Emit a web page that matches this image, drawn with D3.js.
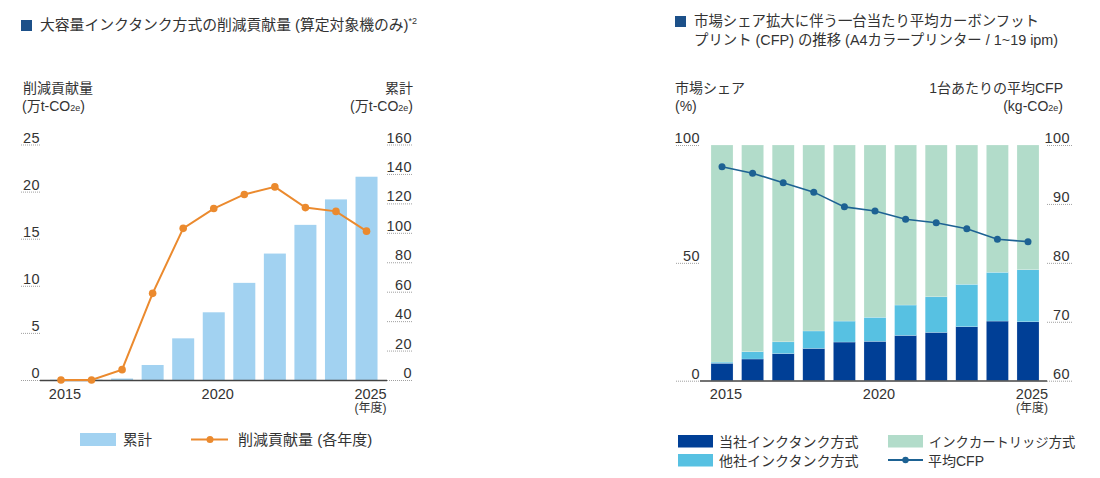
<!DOCTYPE html>
<html><head><meta charset="utf-8">
<script src="https://cdn.jsdelivr.net/npm/d3@7"></script>
<style>
html,body{margin:0;padding:0;background:#fff;}
svg text{font-family:"Liberation Sans","Noto Sans CJK JP",sans-serif;fill:#333;}
</style></head>
<body>
<svg id="c" width="1100" height="478"></svg>
<script>
// ---- data ----
const years = [2015,2016,2017,2018,2019,2020,2021,2022,2023,2024,2025];
const yearLabels = ["2015","2020","2025"];
// left chart
const cumulative = [0.2,0.3,1.0,10.2,28.3,46.0,66.0,85.9,105.4,122.7,138.1];
const annual = [0,0,1.1,9.2,16.1,18.2,19.7,20.5,18.3,17.9,15.8];
const leftTicksL = [0,5,10,15,20,25];
const leftTicksR = [0,20,40,60,80,100,120,140,160];
// right chart
const ownTank = [7.4,9.2,11.5,13.7,16.4,16.7,19.2,20.5,22.9,25.3,25.0];
const otherTank = [0.5,3.1,5.0,7.4,8.9,10.2,12.9,15.1,18.0,20.7,22.1];
const cartridge = ownTank.map((d,i)=>+(100-d-otherTank[i]).toFixed(1));
const avgCFP = [96.3,95.2,93.6,92.0,89.5,88.8,87.4,86.8,85.8,84.0,83.6];
const rightTicksL = [0,50,100];
const rightTicksR = [60,70,80,90,100];

const svg = d3.select("#c");
const C = {navy:"#003f96", sky:"#57c1e2", mint:"#b2dcca", bar:"#a2d2f1", orange:"#eb8a2e", cfp:"#1d6293", sq:"#1c5089", text:"#333"};

function title(x,y,lines,sup,fs){
  svg.append("rect").attr("x",x).attr("y",y-10).attr("width",11).attr("height",11).attr("fill",C.sq);
  lines.forEach((l,i)=>{
    const t = svg.append("text").attr("x",x+19).attr("y",y+i*19).attr("font-size",fs).text(l);
    if(sup && i===lines.length-1) t.append("tspan").attr("font-size",9).attr("dy",-6).text(sup);
  });
}
function unitText(x,y,anchor,main,sub){
  const t = svg.append("text").attr("x",x).attr("y",y).attr("font-size",14).attr("text-anchor",anchor);
  t.append("tspan").text(main);
  if(sub){t.append("tspan").attr("font-size",9).text(sub); t.append("tspan").text(")");}
}
function ticks(scale, vals, x1, x2, anchorX){
  const g = svg.append("g");
  vals.forEach(v=>{
    const y = scale(v);
    g.append("line").attr("x1",x1).attr("x2",x2).attr("y1",y+0.5).attr("y2",y+0.5)
      .attr("stroke","#888").attr("stroke-width",0.8).attr("stroke-dasharray","1,1");
    g.append("text").attr("x",anchorX).attr("y",y-2).attr("font-size",14.5).attr("letter-spacing",0.4)
      .attr("text-anchor","end").text(v);
  });
}

// ================= LEFT CHART =================
title(21,30,["大容量インクタンク方式の削減貢献量 (算定対象機のみ)"],"*2",14.8);
unitText(23,93,"start","削減貢献量");
unitText(22,111,"start","(万t-CO","2e");
unitText(413,93,"end","累計");
unitText(413,111,"end","(万t-CO","2e");

const xL = d3.scaleBand().domain(years).range([45.7,381.8]).paddingInner(0.28).paddingOuter(0.14);
const yL = d3.scaleLinear().domain([0,25]).range([380,144.5]);
const yR = d3.scaleLinear().domain([0,160]).range([380,144.5]);

ticks(yL,leftTicksL,21,40,40);
ticks(yR,leftTicksR,387,413,412);

svg.append("g").selectAll("rect").data(cumulative).join("rect")
  .attr("x",(d,i)=>xL(years[i])).attr("width",xL.bandwidth())
  .attr("y",d=>yR(d)).attr("height",d=>yR(0)-yR(d)).attr("fill",C.bar);

svg.append("line").attr("x1",40).attr("x2",387).attr("y1",380.5).attr("y2",380.5).attr("stroke","#444").attr("stroke-width",1.3);

const cxL = i=>xL(years[i])+xL.bandwidth()/2;
svg.append("path").datum(annual)
  .attr("d",d3.line().x((d,i)=>cxL(i)).y(d=>yL(d)))
  .attr("fill","none").attr("stroke",C.orange).attr("stroke-width",2);
svg.append("g").selectAll("circle").data(annual).join("circle")
  .attr("cx",(d,i)=>cxL(i)).attr("cy",d=>yL(d)).attr("r",3.8).attr("fill",C.orange);

yearLabels.forEach(l=>{
  svg.append("text").attr("x",cxL(years.indexOf(+l))+4).attr("y",399).attr("font-size",14.5)
    .attr("text-anchor","middle").text(l);
});
svg.append("text").attr("x",cxL(10)+4).attr("y",412).attr("font-size",12).attr("text-anchor","middle").text("(年度)");

// legend left
svg.append("rect").attr("x",80).attr("y",433).attr("width",36).attr("height",13).attr("fill",C.bar);
svg.append("text").attr("x",123).attr("y",445).attr("font-size",14.5).text("累計");
svg.append("line").attr("x1",191).attr("x2",228).attr("y1",439.5).attr("y2",439.5).attr("stroke",C.orange).attr("stroke-width",2);
svg.append("circle").attr("cx",210).attr("cy",439.5).attr("r",3.5).attr("fill",C.orange);
svg.append("text").attr("x",238).attr("y",445).attr("font-size",15).text("削減貢献量 (各年度)");

// ================= RIGHT CHART =================
title(675,26,["市場シェア拡大に伴う一台当たり平均カーボンフット","プリント (CFP) の推移 (A4カラープリンター / 1~19 ipm)"],null,14.4);
unitText(675,93,"start","市場シェア");
unitText(675,111,"start","(%)");
unitText(1063,93,"end","1台あたりの平均CFP");
unitText(1063,111,"end","(kg-CO","2e");

const xR = d3.scaleBand().domain(years).range([711-4.3,1039+4.3]).paddingInner(0.28).paddingOuter(0.14);
const yS = d3.scaleLinear().domain([0,100]).range([380.7,145]);
const yC = d3.scaleLinear().domain([60,100]).range([380.7,145]);

ticks(yS,rightTicksL,676,700,700);
ticks(yC,rightTicksR,1047,1073,1070);

const stackData = years.map((y,i)=>({year:y,own:ownTank[i],other:otherTank[i],cart:cartridge[i]}));
const series = d3.stack().keys(["own","other","cart"])(stackData);
const col = {own:C.navy,other:C.sky,cart:C.mint};
svg.append("g").selectAll("g").data(series).join("g").attr("fill",d=>col[d.key])
  .selectAll("rect").data(d=>d).join("rect")
  .attr("x",d=>xR(d.data.year)).attr("width",xR.bandwidth())
  .attr("y",d=>yS(d[1])).attr("height",d=>yS(d[0])-yS(d[1]))
  .attr("stroke","#fff").attr("stroke-opacity",0.4).attr("stroke-width",0.5);

svg.append("line").attr("x1",700).attr("x2",1047).attr("y1",381).attr("y2",381).attr("stroke","#444").attr("stroke-width",1.3);

const cxR = i=>xR(years[i])+xR.bandwidth()/2;
svg.append("path").datum(avgCFP)
  .attr("d",d3.line().x((d,i)=>cxR(i)).y(d=>yC(d)))
  .attr("fill","none").attr("stroke",C.cfp).attr("stroke-width",1.6);
svg.append("g").selectAll("circle").data(avgCFP).join("circle")
  .attr("cx",(d,i)=>cxR(i)).attr("cy",d=>yC(d)).attr("r",3.5).attr("fill",C.cfp);

yearLabels.forEach(l=>{
  svg.append("text").attr("x",cxR(years.indexOf(+l))+4).attr("y",399).attr("font-size",14.5)
    .attr("text-anchor","middle").text(l);
});
svg.append("text").attr("x",cxR(10)+4).attr("y",412).attr("font-size",12).attr("text-anchor","middle").text("(年度)");

// legend right
const legR = [
  {x:678,y:435,type:"rect",c:C.navy,t:"当社インクタンク方式"},
  {x:678,y:454,type:"rect",c:C.sky,t:"他社インクタンク方式"},
  {x:888,y:435,type:"rect",c:C.mint,t:"インクカートリッジ方式"},
  {x:888,y:454,type:"line",c:C.cfp,t:"平均CFP"}
];
legR.forEach(d=>{
  if(d.type==="rect") svg.append("rect").attr("x",d.x).attr("y",d.y).attr("width",35).attr("height",12.5).attr("fill",d.c);
  else {
    svg.append("line").attr("x1",d.x).attr("x2",d.x+35).attr("y1",d.y+6).attr("y2",d.y+6).attr("stroke",d.c).attr("stroke-width",1.8);
    svg.append("circle").attr("cx",d.x+17.5).attr("cy",d.y+6).attr("r",3.2).attr("fill",d.c);
  }
  svg.append("text").attr("x",d.x+(d.type==="rect"?41:40)).attr("y",d.y+12).attr("font-size",d.t.startsWith("インク")?13.3:14).text(d.t);
});
</script>
</body></html>
